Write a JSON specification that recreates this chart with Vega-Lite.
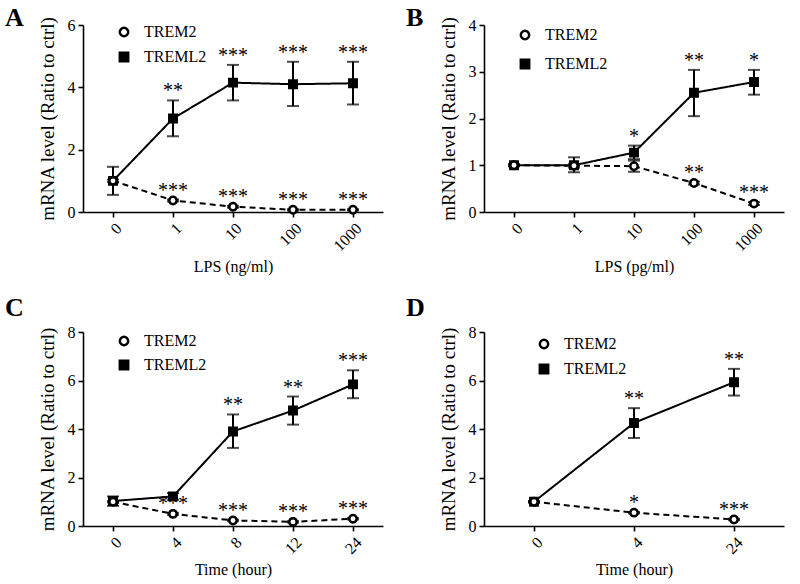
{
  "$schema": "https://vega.github.io/schema/vega-lite/v6.json",
  "background": "white",
  "padding": 5,
  "config": {
    "font": "Liberation Serif, Times New Roman, serif",
    "view": {"stroke": null},
    "axis": {"domainColor": "black", "domainWidth": 1.6, "tickColor": "black", "tickWidth": 1.6, "tickSize": 5, "labelColor": "black", "labelFontSize": 16, "labelFont": "Liberation Serif, Times New Roman, serif", "titleFont": "Liberation Serif, Times New Roman, serif", "titleFontSize": 16, "titleFontWeight": "normal", "titleColor": "black", "grid": false, "labelPadding": 3},
    "axisY": {"titlePadding": 10, "titleFontSize": 19},
    "axisX": {"titlePadding": 5},
    "title": {"font": "Liberation Serif, Times New Roman, serif", "fontSize": 26, "fontWeight": "bold", "color": "black", "anchor": "start", "frame": "group", "dx": -78},
    "legend": {"labelFont": "Liberation Serif, Times New Roman, serif", "labelFontSize": 16, "labelColor": "black", "symbolSize": 70, "symbolStrokeWidth": 2.5, "labelOffset": 12, "title": null}
  },
  "datasets": {
    "A": [
      {"x": "0", "series": "TREML2", "mean": 1.0, "lo": 0.55, "hi": 1.45, "sig": ""},
      {"x": "1", "series": "TREML2", "mean": 3.0, "lo": 2.43, "hi": 3.58, "sig": "**"},
      {"x": "10", "series": "TREML2", "mean": 4.15, "lo": 3.58, "hi": 4.72, "sig": "***"},
      {"x": "100", "series": "TREML2", "mean": 4.1, "lo": 3.4, "hi": 4.82, "sig": "***"},
      {"x": "1000", "series": "TREML2", "mean": 4.13, "lo": 3.45, "hi": 4.82, "sig": "***"},
      {"x": "0", "series": "TREM2", "mean": 1.0, "lo": 0.96, "hi": 1.04, "sig": ""},
      {"x": "1", "series": "TREM2", "mean": 0.37, "lo": 0.34, "hi": 0.4, "sig": "***"},
      {"x": "10", "series": "TREM2", "mean": 0.17, "lo": 0.14, "hi": 0.2, "sig": "***"},
      {"x": "100", "series": "TREM2", "mean": 0.07, "lo": 0.05, "hi": 0.09, "sig": "***"},
      {"x": "1000", "series": "TREM2", "mean": 0.07, "lo": 0.05, "hi": 0.09, "sig": "***"}
    ],
    "B": [
      {"x": "0", "series": "TREML2", "mean": 1.0, "lo": 0.98, "hi": 1.02, "sig": ""},
      {"x": "1", "series": "TREML2", "mean": 1.0, "lo": 0.85, "hi": 1.17, "sig": ""},
      {"x": "10", "series": "TREML2", "mean": 1.27, "lo": 1.13, "hi": 1.42, "sig": "*"},
      {"x": "100", "series": "TREML2", "mean": 2.55, "lo": 2.05, "hi": 3.04, "sig": "**"},
      {"x": "1000", "series": "TREML2", "mean": 2.78, "lo": 2.51, "hi": 3.04, "sig": "*"},
      {"x": "0", "series": "TREM2", "mean": 1.0, "lo": 0.98, "hi": 1.02, "sig": ""},
      {"x": "1", "series": "TREM2", "mean": 0.99, "lo": 0.95, "hi": 1.03, "sig": ""},
      {"x": "10", "series": "TREM2", "mean": 0.98, "lo": 0.86, "hi": 1.1, "sig": ""},
      {"x": "100", "series": "TREM2", "mean": 0.62, "lo": 0.59, "hi": 0.65, "sig": "**"},
      {"x": "1000", "series": "TREM2", "mean": 0.18, "lo": 0.15, "hi": 0.21, "sig": "***"}
    ],
    "C": [
      {"x": "0", "series": "TREML2", "mean": 1.03, "lo": 0.83, "hi": 1.22, "sig": ""},
      {"x": "4", "series": "TREML2", "mean": 1.22, "lo": 1.08, "hi": 1.36, "sig": ""},
      {"x": "8", "series": "TREML2", "mean": 3.9, "lo": 3.22, "hi": 4.6, "sig": "**"},
      {"x": "12", "series": "TREML2", "mean": 4.76, "lo": 4.18, "hi": 5.34, "sig": "**"},
      {"x": "24", "series": "TREML2", "mean": 5.84, "lo": 5.27, "hi": 6.42, "sig": "***"},
      {"x": "0", "series": "TREM2", "mean": 1.0, "lo": 0.97, "hi": 1.03, "sig": ""},
      {"x": "4", "series": "TREM2", "mean": 0.5, "lo": 0.46, "hi": 0.54, "sig": "***"},
      {"x": "8", "series": "TREM2", "mean": 0.23, "lo": 0.2, "hi": 0.26, "sig": "***"},
      {"x": "12", "series": "TREM2", "mean": 0.17, "lo": 0.14, "hi": 0.2, "sig": "***"},
      {"x": "24", "series": "TREM2", "mean": 0.3, "lo": 0.27, "hi": 0.33, "sig": "***"}
    ],
    "D": [
      {"x": "0", "series": "TREML2", "mean": 1.0, "lo": 0.97, "hi": 1.03, "sig": ""},
      {"x": "4", "series": "TREML2", "mean": 4.25, "lo": 3.63, "hi": 4.86, "sig": "**"},
      {"x": "24", "series": "TREML2", "mean": 5.93, "lo": 5.38, "hi": 6.48, "sig": "**"},
      {"x": "0", "series": "TREM2", "mean": 1.0, "lo": 0.97, "hi": 1.03, "sig": ""},
      {"x": "4", "series": "TREM2", "mean": 0.55, "lo": 0.52, "hi": 0.58, "sig": "*"},
      {"x": "24", "series": "TREM2", "mean": 0.27, "lo": 0.24, "hi": 0.3, "sig": "***"}
    ]
  },
  "spacing": 20,
  "resolve": {"scale": {"shape": "independent", "fill": "independent", "stroke": "independent"}},
  "vconcat": [
    {
      "hconcat": [
        {
          "width": 300, "height": 187,
          "title": {"text": "A", "offset": -15},
          "data": {"name": "A"},
          "encoding": {"x": {"field": "x", "type": "ordinal", "sort": ["0", "1", "10", "100", "1000"], "scale": {"type": "point", "padding": 0.5}, "axis": {"title": "LPS (ng/ml)", "labelAngle": -45}}},
          "layer": [
            {"mark": {"type": "line", "color": "black", "strokeWidth": 2}, "encoding": {"y": {"field": "mean", "type": "quantitative", "title": "mRNA level (Ratio to ctrl)", "scale": {"domain": [0, 6], "nice": false}, "axis": {"values": [0, 2, 4, 6]}}, "detail": {"field": "series", "type": "nominal"}, "strokeDash": {"condition": {"test": "datum.series == 'TREM2'", "value": [6, 4]}, "value": [1, 0]}}},
            {"mark": {"type": "errorbar", "ticks": {"size": 12, "thickness": 2, "color": "black"}, "thickness": 2, "color": "black"}, "encoding": {"y": {"field": "lo", "type": "quantitative", "title": "mRNA level (Ratio to ctrl)"}, "y2": {"field": "hi"}, "detail": {"field": "series"}}},
            {"mark": {"type": "point", "strokeWidth": 2.5, "opacity": 1, "size": 55}, "encoding": {"y": {"field": "mean", "type": "quantitative", "title": "mRNA level (Ratio to ctrl)"},
              "shape": {"field": "series", "type": "nominal", "scale": {"domain": ["TREM2", "TREML2"], "range": ["circle", "square"]}, "legend": {"title": null, "orient": "none", "legendX": 33, "legendY": -1, "rowPadding": 5}},
              "fill": {"field": "series", "type": "nominal", "scale": {"domain": ["TREM2", "TREML2"], "range": ["white", "black"]}, "legend": {"title": null, "orient": "none", "legendX": 33, "legendY": -1, "rowPadding": 5}},
              "stroke": {"field": "series", "type": "nominal", "scale": {"domain": ["TREM2", "TREML2"], "range": ["black", "black"]}, "legend": {"title": null, "orient": "none", "legendX": 33, "legendY": -1, "rowPadding": 5}}}},
            {"mark": {"type": "text", "fontSize": 20, "dy": -9, "baseline": "middle", "color": "black"}, "encoding": {"y": {"field": "hi", "type": "quantitative", "title": "mRNA level (Ratio to ctrl)"}, "text": {"field": "sig"}}}
          ]
        },
        {
          "width": 300, "height": 187,
          "title": {"text": "B", "offset": -15},
          "data": {"name": "B"},
          "encoding": {"x": {"field": "x", "type": "ordinal", "sort": ["0", "1", "10", "100", "1000"], "scale": {"type": "point", "padding": 0.5}, "axis": {"title": "LPS (pg/ml)", "labelAngle": -45}}},
          "layer": [
            {"mark": {"type": "line", "color": "black", "strokeWidth": 2}, "encoding": {"y": {"field": "mean", "type": "quantitative", "title": "mRNA level (Ratio to ctrl)", "scale": {"domain": [0, 4], "nice": false}, "axis": {"values": [0, 1, 2, 3, 4]}}, "detail": {"field": "series", "type": "nominal"}, "strokeDash": {"condition": {"test": "datum.series == 'TREM2'", "value": [6, 4]}, "value": [1, 0]}}},
            {"mark": {"type": "errorbar", "ticks": {"size": 12, "thickness": 2, "color": "black"}, "thickness": 2, "color": "black"}, "encoding": {"y": {"field": "lo", "type": "quantitative", "title": "mRNA level (Ratio to ctrl)"}, "y2": {"field": "hi"}, "detail": {"field": "series"}}},
            {"mark": {"type": "point", "strokeWidth": 2.5, "opacity": 1, "size": 55}, "encoding": {"y": {"field": "mean", "type": "quantitative", "title": "mRNA level (Ratio to ctrl)"},
              "shape": {"field": "series", "type": "nominal", "scale": {"domain": ["TREM2", "TREML2"], "range": ["circle", "square"]}, "legend": {"title": null, "orient": "none", "legendX": 33, "legendY": 2, "rowPadding": 9}},
              "fill": {"field": "series", "type": "nominal", "scale": {"domain": ["TREM2", "TREML2"], "range": ["white", "black"]}, "legend": {"title": null, "orient": "none", "legendX": 33, "legendY": 2, "rowPadding": 9}},
              "stroke": {"field": "series", "type": "nominal", "scale": {"domain": ["TREM2", "TREML2"], "range": ["black", "black"]}, "legend": {"title": null, "orient": "none", "legendX": 33, "legendY": 2, "rowPadding": 9}}}},
            {"mark": {"type": "text", "fontSize": 20, "dy": -9, "baseline": "middle", "color": "black"}, "encoding": {"y": {"field": "hi", "type": "quantitative", "title": "mRNA level (Ratio to ctrl)"}, "text": {"field": "sig"}}}
          ]
        }
      ],
      "spacing": 23,
      "resolve": {"scale": {"shape": "independent", "fill": "independent", "stroke": "independent"}}
    },
    {
      "hconcat": [
        {
          "width": 300, "height": 194,
          "title": {"text": "C", "offset": 3},
          "data": {"name": "C"},
          "encoding": {"x": {"field": "x", "type": "ordinal", "sort": ["0", "4", "8", "12", "24"], "scale": {"type": "point", "padding": 0.5}, "axis": {"title": "Time (hour)", "labelAngle": -45}}},
          "layer": [
            {"mark": {"type": "line", "color": "black", "strokeWidth": 2}, "encoding": {"y": {"field": "mean", "type": "quantitative", "title": "mRNA level (Ratio to ctrl)", "scale": {"domain": [0, 8], "nice": false}, "axis": {"values": [0, 2, 4, 6, 8]}}, "detail": {"field": "series", "type": "nominal"}, "strokeDash": {"condition": {"test": "datum.series == 'TREM2'", "value": [6, 4]}, "value": [1, 0]}}},
            {"mark": {"type": "errorbar", "ticks": {"size": 12, "thickness": 2, "color": "black"}, "thickness": 2, "color": "black"}, "encoding": {"y": {"field": "lo", "type": "quantitative", "title": "mRNA level (Ratio to ctrl)"}, "y2": {"field": "hi"}, "detail": {"field": "series"}}},
            {"mark": {"type": "point", "strokeWidth": 2.5, "opacity": 1, "size": 55}, "encoding": {"y": {"field": "mean", "type": "quantitative", "title": "mRNA level (Ratio to ctrl)"},
              "shape": {"field": "series", "type": "nominal", "scale": {"domain": ["TREM2", "TREML2"], "range": ["circle", "square"]}, "legend": {"title": null, "orient": "none", "legendX": 33, "legendY": 1, "rowPadding": 4}},
              "fill": {"field": "series", "type": "nominal", "scale": {"domain": ["TREM2", "TREML2"], "range": ["white", "black"]}, "legend": {"title": null, "orient": "none", "legendX": 33, "legendY": 1, "rowPadding": 4}},
              "stroke": {"field": "series", "type": "nominal", "scale": {"domain": ["TREM2", "TREML2"], "range": ["black", "black"]}, "legend": {"title": null, "orient": "none", "legendX": 33, "legendY": 1, "rowPadding": 4}}}},
            {"mark": {"type": "text", "fontSize": 20, "dy": -9, "baseline": "middle", "color": "black"}, "encoding": {"y": {"field": "hi", "type": "quantitative", "title": "mRNA level (Ratio to ctrl)"}, "text": {"field": "sig"}}}
          ]
        },
        {
          "width": 300, "height": 194,
          "title": {"text": "D", "offset": 3},
          "data": {"name": "D"},
          "encoding": {"x": {"field": "x", "type": "ordinal", "sort": ["0", "4", "24"], "scale": {"type": "point", "padding": 0.5}, "axis": {"title": "Time (hour)", "labelAngle": -45}}},
          "layer": [
            {"mark": {"type": "line", "color": "black", "strokeWidth": 2}, "encoding": {"y": {"field": "mean", "type": "quantitative", "title": "mRNA level (Ratio to ctrl)", "scale": {"domain": [0, 8], "nice": false}, "axis": {"values": [0, 2, 4, 6, 8]}}, "detail": {"field": "series", "type": "nominal"}, "strokeDash": {"condition": {"test": "datum.series == 'TREM2'", "value": [6, 4]}, "value": [1, 0]}}},
            {"mark": {"type": "errorbar", "ticks": {"size": 12, "thickness": 2, "color": "black"}, "thickness": 2, "color": "black"}, "encoding": {"y": {"field": "lo", "type": "quantitative", "title": "mRNA level (Ratio to ctrl)"}, "y2": {"field": "hi"}, "detail": {"field": "series"}}},
            {"mark": {"type": "point", "strokeWidth": 2.5, "opacity": 1, "size": 55}, "encoding": {"y": {"field": "mean", "type": "quantitative", "title": "mRNA level (Ratio to ctrl)"},
              "shape": {"field": "series", "type": "nominal", "scale": {"domain": ["TREM2", "TREML2"], "range": ["circle", "square"]}, "legend": {"title": null, "orient": "none", "legendX": 52, "legendY": 4, "rowPadding": 5}},
              "fill": {"field": "series", "type": "nominal", "scale": {"domain": ["TREM2", "TREML2"], "range": ["white", "black"]}, "legend": {"title": null, "orient": "none", "legendX": 52, "legendY": 4, "rowPadding": 5}},
              "stroke": {"field": "series", "type": "nominal", "scale": {"domain": ["TREM2", "TREML2"], "range": ["black", "black"]}, "legend": {"title": null, "orient": "none", "legendX": 52, "legendY": 4, "rowPadding": 5}}}},
            {"mark": {"type": "text", "fontSize": 20, "dy": -9, "baseline": "middle", "color": "black"}, "encoding": {"y": {"field": "hi", "type": "quantitative", "title": "mRNA level (Ratio to ctrl)"}, "text": {"field": "sig"}}}
          ]
        }
      ],
      "spacing": 23,
      "resolve": {"scale": {"shape": "independent", "fill": "independent", "stroke": "independent"}}
    }
  ]
}
